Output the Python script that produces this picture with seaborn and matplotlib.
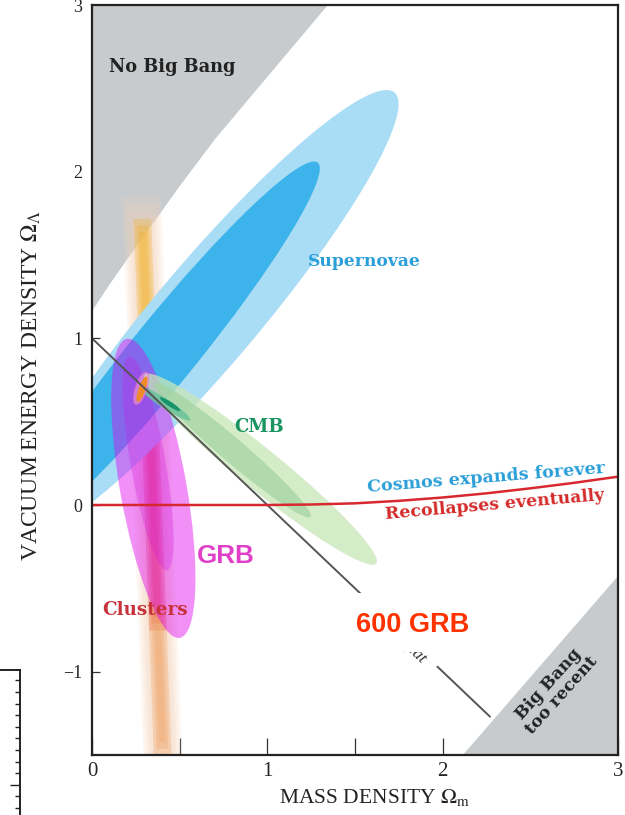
import numpy as np
import pandas as pd
import matplotlib
matplotlib.use("Agg")
import matplotlib.pyplot as plt
from matplotlib.patches import Ellipse, Rectangle
from matplotlib.ticker import MultipleLocator, FixedLocator, NullFormatter
import seaborn as sns

# ---- data (Omega_m on x, Omega_Lambda on y) ----
# edge of the "No Big Bang" region
nobang_x = [0.0, 0.10, 0.20, 0.35, 0.50, 0.70, 0.90, 1.10, 1.34]
nobang_y = [1.17, 1.33, 1.48, 1.70, 1.92, 2.20, 2.45, 2.70, 3.0]

# edge of the "Big Bang too recent" region
recent_x = [2.11, 3.0]
recent_y = [-1.5, -0.42]

# boundary between eternal expansion and recollapse
recoll_x = [0.0, 0.5, 1.0, 1.25, 1.5, 1.75, 2.0, 2.25, 2.5, 2.75, 3.0]
recoll_y = [0.0, 0.0, 0.0, 0.003, 0.01, 0.025, 0.045, 0.07, 0.10, 0.133, 0.17]

# flat-universe line, split around its label
flat_upper_x = [0.0, 1.72]
flat_upper_y = [1.0, -0.72]
flat_lower_x = [1.97, 2.27]
flat_lower_y = [-0.97, -1.27]

# confidence regions drawn as ellipses
region_names = ["SN outer", "SN inner", "GRB outer", "GRB inner",
                "CMB outer", "CMB mid", "CMB 2sig", "CMB 1sig",
                "joint outline", "joint core"]
region_cx = [0.66, 0.42, 0.35, 0.32, 0.96, 0.80, 0.415, 0.445, 0.28, 0.285]
region_cy = [1.15, 0.93, 0.10, 0.25, 0.215, 0.33, 0.61, 0.605, 0.70, 0.695]
region_a = [1.70, 1.42, 0.91, 0.65, 0.87, 0.60, 0.176, 0.07, 0.10, 0.08]
region_b = [0.30, 0.19, 0.19, 0.10, 0.12, 0.07, 0.028, 0.014, 0.032, 0.02]
region_angle = [51.3, 52.4, 99.5, 99.5, -40.6, -42.0, -34.6, -34.6, 73.0, 71.6]

# galaxy-cluster band: centre line and coloured core segments
clusters_y = [-1.5, 1.85]
clusters_x = [0.40, 0.28]
core_bottom = [0.50, -0.75, -1.50]
core_top = [1.72, 0.50, -0.60]

# ---- styling ----
gray = "#c8cbce"
region_face = ["#a9dcf5", "#3cb3ea", "#e00cf0", "#d010e0",
               "#c8e6b8", "#a3d3a0", "#6cc39a", "#17936b",
               "#f6a8d8", "#f08a2a"]
region_alpha = [1.0, 1.0, 0.45, 0.25, 0.75, 0.7, 0.85, 1.0, 0.55, 1.0]
region_edge = ["none"] * 8 + ["#f070c0", "none"]
region_z = [3, 3.1, 5, 5.1, 5.5, 5.6, 6, 6.1, 6.2, 6.3]
core_colors = ["#f2b01e", "#e8453a", "#f0a060"]

regions = pd.DataFrame(dict(name=region_names, cx=region_cx, cy=region_cy,
                            a=region_a, b=region_b, angle=region_angle,
                            face=region_face, alpha=region_alpha,
                            edge=region_edge, z=region_z))

sns.set_theme(style="white")
plt.rcParams["font.family"] = ["Liberation Serif", "DejaVu Serif"]
plt.rcParams["mathtext.fontset"] = "stix"

fig = plt.figure(figsize=(6.25, 8.15), dpi=100)
ax = fig.add_axes([92 / 625, 60 / 815, 526 / 625, 750 / 815])
ax.set_xlim(0, 3)
ax.set_ylim(-1.5, 3)

# forbidden regions
ax.fill_between(nobang_x, nobang_y, 3, color=gray, lw=0, zorder=1)
ax.fill_between(recent_x, -1.5, recent_y, color=gray, lw=0, zorder=1)

# cluster band with soft edges
def cluster_band(y0, y1, half, color, alpha):
    ys = np.array([y0, y1])
    xc = np.interp(ys, clusters_y, clusters_x)
    ax.fill_betweenx(ys, xc - half, xc + half, color=color, alpha=alpha,
                     lw=0, zorder=2)

for i, half in enumerate([0.11, 0.095, 0.08, 0.065, 0.05]):
    cluster_band(clusters_y[0], clusters_y[1] - 0.05 * i, half, "#f5d2b4", 0.18)
for (y0, y1, col) in zip(core_bottom, core_top, core_colors):
    for j, half in enumerate([0.05, 0.035, 0.02]):
        cluster_band(y0 + 0.04 * j, y1 - 0.04 * j, half, col, 0.28)

# confidence ellipses
for _, r in regions.iterrows():
    ax.add_patch(Ellipse((r.cx, r.cy), 2 * r.a, 2 * r.b, angle=r.angle,
                         facecolor=r.face, alpha=r.alpha, edgecolor=r.edge,
                         lw=1.0, zorder=r.z))

# lines
sns.lineplot(x=flat_upper_x, y=flat_upper_y, ax=ax, color="#555555", lw=1.4,
             zorder=7)
sns.lineplot(x=flat_lower_x, y=flat_lower_y, ax=ax, color="#555555", lw=1.4,
             zorder=7)
sns.lineplot(x=recoll_x, y=recoll_y, ax=ax, color="#d8282f", lw=1.8, zorder=7.5)

# labels inside the plot
bold_serif = dict(family="DejaVu Serif", weight="bold")
ax.text(0.456, 2.625, "No Big Bang", size=12.8, color="#222222",
        ha="center", va="center", zorder=8, **bold_serif)
ax.text(1.232, 1.46, "Supernovae", size=12.3, color="#2b9fd9",
        ha="left", va="center", zorder=8, **bold_serif)
ax.text(0.953, 0.468, "CMB", size=13, color="#1a9460",
        ha="center", va="center", zorder=8, **bold_serif)
ax.text(2.25, 0.162, "Cosmos expands forever", size=12.6, color="#2b9fd9",
        ha="center", va="center", rotation=4.6, zorder=8, **bold_serif)
ax.text(2.30, 0.0, "Recollapses eventually", size=12.4, color="#d42a2a",
        ha="center", va="center", rotation=5.0, zorder=8, **bold_serif)
ax.text(0.30, -0.63, "Clusters", size=13.2, color="#c8323a",
        ha="center", va="center", zorder=8, **bold_serif)
ax.text(2.64, -1.11, "Big Bang\ntoo recent", size=12.3, color="#222222",
        ha="center", va="center", rotation=48, linespacing=1.0, zorder=8,
        **bold_serif)
ax.text(0.764, -0.306, "GRB", size=18.7, color="#e040c8", family="Liberation Sans",
        weight="bold", ha="center", va="center", zorder=8)
ax.text(1.845, -0.889, "flat", size=12.5, style="italic", color="#333333",
        family="Liberation Serif", rotation=-43.5, ha="center", va="center",
        zorder=8)

# white panel with the sample-size note
ax.add_patch(Rectangle((1.44, -0.883), 0.96, 0.354, facecolor="white",
                       edgecolor="none", zorder=9))
ax.text(1.83, -0.72, "600 GRB", size=19.5, color="#ff3300",
        family="Liberation Sans", weight="bold",
        ha="center", va="center", zorder=10)

# axes styling
ax.set_xticks([0, 1, 2, 3])
ax.xaxis.set_minor_locator(MultipleLocator(0.5))
ax.set_yticks([-1, 0, 1, 2, 3])
ax.set_yticklabels(["\u22121", "0", "1", "2", "3"])
ax.tick_params(axis="x", which="both", direction="in", length=12, width=0.9,
               color="#333333", labelsize=15, pad=5, bottom=True, top=False)
ax.tick_params(axis="y", which="both", direction="in", length=6, width=0.9,
               color="#333333", labelsize=13, pad=7, left=True, right=False)
for s in ax.spines.values():
    s.set_linewidth(1.6)
    s.set_color("#222222")
    s.set_zorder(11)

fig.text(375 / 625, 1 - 797 / 815, r"MASS DENSITY $\Omega_{\mathrm{m}}$",
         size=15.5, ha="center", va="center", color="#222222")
fig.text(31 / 625, 1 - 386 / 815, r"VACUUM ENERGY DENSITY $\Omega_\Lambda$",
         size=17, rotation=90, ha="center", va="center", color="#222222")

# fragment of a neighbouring scale at the lower left edge
ax2 = fig.add_axes([-0.01, 0, 0.01 + 20 / 625, 145 / 815])
ax2.set_facecolor("none")
ax2.set_xlim(0, 1)
ax2.set_ylim(-0.6, 11.9)
for side in ["left", "bottom"]:
    ax2.spines[side].set_visible(False)
for side in ["top", "right"]:
    ax2.spines[side].set_linewidth(1.4)
    ax2.spines[side].set_color("#222222")
ax2.set_xticks([])
ax2.yaxis.tick_right()
ax2.yaxis.set_major_locator(FixedLocator([2]))
ax2.yaxis.set_minor_locator(FixedLocator([0, 1, 3, 4, 5, 6, 7, 8, 9, 10, 11]))
ax2.yaxis.set_major_formatter(NullFormatter())
ax2.tick_params(axis="y", which="major", direction="in", length=7, width=1.0,
                color="#222222")
ax2.tick_params(axis="y", which="minor", direction="in", length=3.6, width=1.0,
                color="#222222")

fig.savefig("out.png", dpi=100, facecolor="white")
